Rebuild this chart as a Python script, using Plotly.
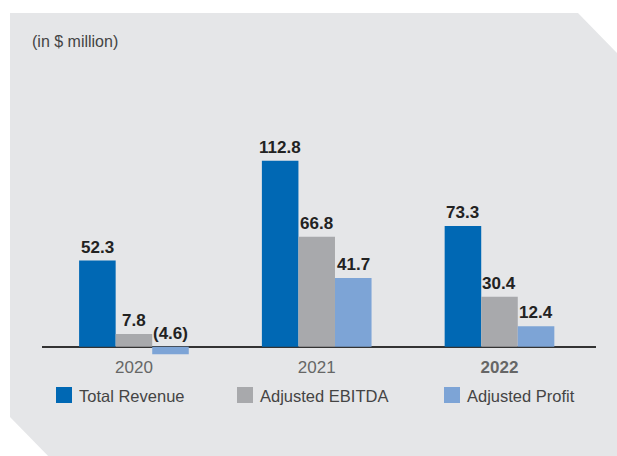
import plotly.graph_objects as go

years = ["2020", "2021", "2022"]
year_labels = ["2020", "2021", "<b>2022</b>"]
total_revenue = [52.3, 112.8, 73.3]
adjusted_ebitda = [7.8, 66.8, 30.4]
adjusted_profit = [-4.6, 41.7, 12.4]

series = [
    ("Total Revenue", total_revenue, "#0068b4"),
    ("Adjusted EBITDA", adjusted_ebitda, "#a8a9ac"),
    ("Adjusted Profit", adjusted_profit, "#7da4d6"),
]

W, H = 617, 456
L, R, T, B = 42, 21, 83, 101
pw, ph = W - L - R, H - T - B


def px_to_paper(x, y):
    return (x - L) / pw, (H - B - y) / ph


fig = go.Figure()
for name, vals, color in series:
    fig.add_trace(go.Bar(x=years, y=vals, name=name, showlegend=False,
                         marker=dict(color=color, line=dict(width=0))))

# value labels above the bars (negatives shown in brackets above the zero line)
shifts = [-36.5, 0, 36.5]
for (name, vals, color), dx in zip(series, shifts):
    for i, v in enumerate(vals):
        txt = f"({abs(v):.1f})" if v < 0 else f"{v:.1f}"
        fig.add_annotation(x=i, y=max(v, 0), text=f"<b>{txt}</b>", showarrow=False,
                           xshift=dx, yanchor="bottom", yshift=2,
                           font=dict(size=17, color="#222222"))

# background card with clipped corners
pts = [(10, 13), (578, 13), (620, 56), (620, 460), (52, 460), (10, 417)]
path = "M " + " L ".join("{:.4f},{:.4f}".format(*px_to_paper(x, y)) for x, y in pts) + " Z"
fig.add_shape(type="path", path=path, xref="paper", yref="paper",
              fillcolor="#e5e6e8", line=dict(width=0), layer="below")

fig.add_annotation(text="(in $ million)", xref="paper", yref="paper",
                   x=px_to_paper(30, 0)[0], y=px_to_paper(0, 41)[1],
                   xanchor="left", yanchor="middle", showarrow=False,
                   font=dict(size=16, color="#444444"))

# legend drawn by hand to match spacing
legend_x = [56, 237, 444]
for (name, vals, color), lx in zip(series, legend_x):
    x0, y0 = px_to_paper(lx, 403)
    x1, y1 = px_to_paper(lx + 16, 387)
    fig.add_shape(type="rect", xref="paper", yref="paper", x0=x0, y0=y0, x1=x1, y1=y1,
                  fillcolor=color, line=dict(width=0))
    fig.add_annotation(text=name, xref="paper", yref="paper",
                       x=px_to_paper(lx + 21, 0)[0], y=px_to_paper(0, 395.5)[1],
                       xanchor="left", yanchor="middle", showarrow=False,
                       font=dict(size=16.5, color="#444444"))

fig.update_layout(
    width=W, height=H,
    margin=dict(l=L, r=R, t=T, b=B),
    paper_bgcolor="white", plot_bgcolor="rgba(0,0,0,0)",
    barmode="group", bargap=0.4, bargroupgap=0,
    font=dict(family="Liberation Sans, Arial, sans-serif", color="#444444"),
    xaxis=dict(type="category", range=[-0.503, 2.528], tickvals=years, ticktext=year_labels,
               showgrid=False, showline=False, ticks="",
               tickfont=dict(size=17, color="#666666"), fixedrange=True),
    yaxis=dict(range=[-5, 160], showticklabels=False, showgrid=False, zeroline=True,
               zerolinecolor="#333333", zerolinewidth=2, fixedrange=True),
)
fig.write_html("out.html", config={"displayModeBar": False},
               post_script="document.body.style.margin='0';")
